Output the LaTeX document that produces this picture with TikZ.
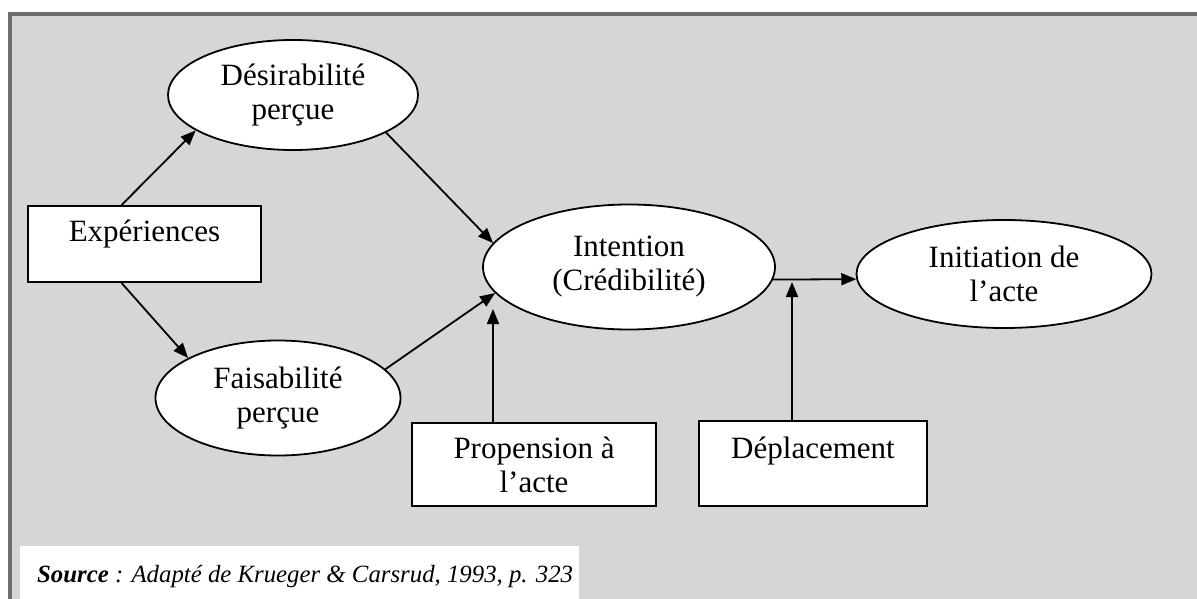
\documentclass[tikz,border=0pt]{standalone}
\usepackage{fontspec}
\setmainfont{Liberation Serif}
\usetikzlibrary{shapes.geometric,arrows.meta,calc,backgrounds}
\definecolor{panel}{HTML}{D6D6D6}
\definecolor{frameline}{HTML}{6E6E6E}
\begin{document}
\begin{tikzpicture}[x=1pt,y=-1pt,
  every node/.style={font=\fontsize{31}{34}\selectfont, align=center, inner sep=0pt},
  oval/.style={ellipse, draw=black, line width=1.8pt, fill=white},
  box/.style={rectangle, draw=black, line width=1.8pt, fill=white},
  arr/.style={-{Triangle[length=15pt,width=12pt]}, line width=1.8pt}]
\useasboundingbox (0,0) rectangle (1197,599);

% model
\node[oval, minimum width=250pt, minimum height=110pt] (des) at (293,95) {Désirabilité\\perçue};
\node[oval, minimum width=245pt, minimum height=115pt] (fai) at (278,398) {Faisabilité\\perçue};
\node[oval, minimum width=292pt, minimum height=125pt] (int) at (629,267) {Intention\\(Crédibilité)};
\node[oval, minimum width=295pt, minimum height=108pt] (init) at (1004,274) {Initiation de\\l’acte};
\node[box, minimum width=233pt, minimum height=76pt] (exp) at (144.5,244) {Expériences\\[-18pt]\strut};
\node[box, minimum width=244pt, minimum height=83pt] (prop) at (534,464.5) {Propension à\\l’acte};
\node[box, minimum width=228pt, minimum height=85pt] (dep) at (813,463.5) {Déplacement\\[-12pt]\strut};

% source line
\node[anchor=base west, font=\fontsize{24.8}{28}\selectfont\itshape] (src) at (37,582)
      {\textbf{Source} : Adapté de Krueger \& Carsrud, 1993, p. 323};

% connectors
\coordinate (pend) at (493,309);
\coordinate (dend) at (792,282);
\draw[arr] ($(exp.north)+(-23,0)$) -- (des.200);
\draw[arr] ($(exp.south)+(-23,0)$) -- (fai.156);
\draw[arr] (des.-22) -- (int.170);
\draw[arr] (fai.15) -- (int.191);
\draw[arr] (prop.north -| pend) -- (pend);
\draw[arr] (int.-5) -- (init.182);
\draw[arr] (dep.north -| dend) -- (dend);

% panel, frame and the white strip under the source line
\begin{pgfonlayer}{background}
  \fill[panel] (10,14) rectangle (1210,610);
  \draw[frameline, line width=4pt] (1210,14) -- (10,14) -- (10,610);
  \fill[white] (20,546) rectangle ($(src.east)+(6,40)$);
\end{pgfonlayer}
\end{tikzpicture}
\end{document}
